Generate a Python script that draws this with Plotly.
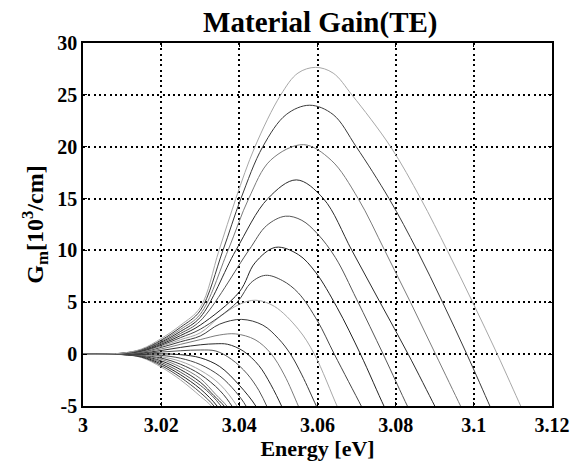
import plotly.graph_objects as go

# Photon energy [eV] and material gain [10^3/cm] for each carrier-density curve,
# highest injection first.
e01 = [3.000, 3.010, 3.015, 3.020, 3.025, 3.030, 3.0348, 3.0391, 3.0440, 3.0506, 3.0550, 3.0595, 3.0640, 3.0688, 3.0787, 3.0864, 3.0932, 3.0997, 3.1060, 3.1120, 3.1135]
g01 = [0, 0.10, 0.50, 1.50, 2.80, 4.50, 10, 15, 20, 25, 27.1, 27.65, 27.1, 25, 20, 15, 10, 5, 0, -5, -6.2]

e02 = [3.000, 3.010, 3.015, 3.020, 3.025, 3.030, 3.0358, 3.0404, 3.0460, 3.0520, 3.0580, 3.0640, 3.0699, 3.0783, 3.0855, 3.0920, 3.0982, 3.1041, 3.1055]
g02 = [0, 0.09, 0.45, 1.35, 2.60, 4.20, 10, 15, 20, 23.1, 24.0, 23.1, 20, 15, 10, 5, 0, -5, -6.2]

e03 = [3.000, 3.010, 3.015, 3.020, 3.025, 3.030, 3.0371, 3.0424, 3.0480, 3.0564, 3.0635, 3.0704, 3.0772, 3.0838, 3.0902, 3.0966, 3.0980]
g03 = [0, 0.08, 0.42, 1.25, 2.40, 3.85, 10, 15, 18.7, 20.2, 18.7, 15, 10, 5, 0, -5, -6.1]

e04 = [3.000, 3.010, 3.015, 3.020, 3.025, 3.030, 3.0391, 3.0473, 3.0546, 3.0615, 3.0688, 3.0760, 3.0832, 3.0900, 3.0915]
g04 = [0, 0.08, 0.38, 1.15, 2.20, 3.55, 10, 15, 16.8, 15, 10, 5, 0, -5, -6.1]

e05 = [3.000, 3.010, 3.015, 3.020, 3.025, 3.030, 3.0424, 3.0470, 3.0518, 3.0560, 3.0600, 3.0646, 3.0700, 3.0768, 3.0830, 3.0845]
g05 = [0, 0.07, 0.35, 1.05, 2.00, 3.20, 10, 12.4, 13.3, 12.9, 11.6, 9.3, 5.3, 0, -5, -6.1]

e06 = [3.000, 3.010, 3.015, 3.020, 3.025, 3.030, 3.0400, 3.0440, 3.0493, 3.0551, 3.0595, 3.0650, 3.0710, 3.0770, 3.0785]
g06 = [0, 0.06, 0.32, 0.95, 1.80, 2.80, 6.0, 8.8, 10.3, 9.6, 7.9, 4.5, 0, -5, -6.1]

e07 = [3.000, 3.010, 3.015, 3.020, 3.025, 3.030, 3.0394, 3.0430, 3.0467, 3.0510, 3.0551, 3.0600, 3.0643, 3.0712, 3.0727]
g07 = [0, 0.06, 0.28, 0.85, 1.60, 2.40, 5.0, 6.9, 7.6, 7.1, 5.9, 3.2, 0, -5, -6.1]

e08 = [3.000, 3.010, 3.015, 3.020, 3.025, 3.030, 3.0350, 3.0400, 3.0442, 3.0490, 3.0551, 3.0592, 3.0650, 3.0665]
g08 = [0, 0.05, 0.25, 0.75, 1.40, 2.05, 3.6, 4.8, 5.2, 4.6, 2.4, 0, -5, -6.2]

e09 = [3.000, 3.010, 3.015, 3.020, 3.025, 3.030, 3.0350, 3.0406, 3.0460, 3.0500, 3.0531, 3.0560, 3.0597, 3.0612]
g09 = [0, 0.04, 0.21, 0.65, 1.20, 1.75, 2.9, 3.35, 2.8, 1.5, 0, -2.0, -5, -6.2]

e10 = [3.000, 3.010, 3.015, 3.020, 3.025, 3.030, 3.0350, 3.0391, 3.0440, 3.0480, 3.0515, 3.0551, 3.0565]
g10 = [0, 0.03, 0.17, 0.50, 0.95, 1.40, 1.85, 1.95, 1.4, 0.1, -2.0, -5, -6.2]

e11 = [3.000, 3.010, 3.015, 3.020, 3.025, 3.030, 3.0340, 3.0370, 3.0410, 3.0450, 3.0480, 3.0508, 3.0522]
g11 = [0, 0.02, 0.12, 0.35, 0.65, 0.90, 1.0, 0.95, 0.3, -1.1, -2.9, -5, -6.2]

e12 = [3.000, 3.010, 3.015, 3.020, 3.025, 3.030, 3.0340, 3.0380, 3.0420, 3.0450, 3.0470, 3.0485]
g12 = [0, 0.01, 0.07, 0.20, 0.33, 0.40, 0.3, -0.5, -1.9, -3.5, -5, -6.2]

e13 = [3.000, 3.010, 3.015, 3.020, 3.025, 3.030, 3.0350, 3.0400, 3.0442, 3.0457]
g13 = [0, 0.00, 0.02, 0.03, -0.05, -0.35, -1.2, -3.0, -5, -6.2]

e14 = [3.000, 3.010, 3.015, 3.020, 3.025, 3.030, 3.0350, 3.0390, 3.0417, 3.0432]
g14 = [0, -0.01, -0.03, -0.12, -0.40, -1.00, -2.1, -3.6, -5, -6.3]

e15 = [3.000, 3.010, 3.015, 3.020, 3.025, 3.030, 3.0350, 3.0394, 3.0410]
g15 = [0, -0.01, -0.06, -0.25, -0.70, -1.55, -2.9, -5, -6.2]

e16 = [3.000, 3.010, 3.015, 3.020, 3.025, 3.030, 3.0350, 3.0381, 3.0396]
g16 = [0, -0.02, -0.10, -0.38, -0.98, -1.95, -3.5, -5, -6.0]

e17 = [3.000, 3.010, 3.015, 3.020, 3.025, 3.030, 3.0340, 3.0368, 3.0385]
g17 = [0, -0.02, -0.13, -0.50, -1.25, -2.35, -3.9, -5, -6.0]

e18 = [3.000, 3.010, 3.015, 3.020, 3.025, 3.030, 3.0335, 3.0361, 3.0378]
g18 = [0, -0.03, -0.17, -0.65, -1.50, -2.70, -4.0, -5, -6.0]

e19 = [3.000, 3.010, 3.015, 3.020, 3.025, 3.030, 3.0330, 3.0353, 3.0370]
g19 = [0, -0.03, -0.21, -0.80, -1.75, -3.00, -4.0, -5, -6.0]

e20 = [3.000, 3.010, 3.015, 3.020, 3.025, 3.030, 3.0343, 3.0360]
g20 = [0, -0.04, -0.25, -0.95, -2.00, -3.35, -5, -6.1]

e21 = [3.000, 3.010, 3.015, 3.020, 3.025, 3.030, 3.0335, 3.0352]
g21 = [0, -0.04, -0.29, -1.10, -2.25, -3.70, -5, -6.1]

e22 = [3.000, 3.010, 3.015, 3.020, 3.025, 3.030, 3.0328, 3.0345]
g22 = [0, -0.05, -0.33, -1.25, -2.50, -4.05, -5, -6.1]

x_ticks = [3.00, 3.02, 3.04, 3.06, 3.08, 3.10, 3.12]
x_tick_text = ["3", "3.02", "3.04", "3.06", "3.08", "3.1", "3.12"]
y_ticks = [-5, 0, 5, 10, 15, 20, 25, 30]
y_tick_text = ["-5", "0", "5", "10", "15", "20", "25", "30"]

curves = [
    (e01, g01), (e02, g02), (e03, g03), (e04, g04), (e05, g05), (e06, g06),
    (e07, g07), (e08, g08), (e09, g09), (e10, g10), (e11, g11), (e12, g12),
    (e13, g13), (e14, g14), (e15, g15), (e16, g16), (e17, g17), (e18, g18),
    (e19, g19), (e20, g20), (e21, g21), (e22, g22),
]

# grey shades cycled over the curve family
shades = ["#a8a8a8", "#3a3a3a", "#7c7c7c", "#2c2c2c", "#565656", "#242424", "#464646"]

SERIF = "Liberation Serif"

fig = go.Figure()
for i in reversed(range(len(curves))):
    ex, gy = curves[i]
    fig.add_trace(go.Scatter(
        x=ex, y=gy, mode="lines",
        line=dict(color=shades[i % len(shades)], width=1, shape="spline", smoothing=1.0),
        showlegend=False, hoverinfo="skip",
    ))

axis_common = dict(
    showgrid=True, gridcolor="black", gridwidth=1.5, griddash="2px,3.3px",
    showline=True, linecolor="black", linewidth=1.5, mirror="ticks",
    ticks="inside", ticklen=4, tickcolor="black", tickwidth=1,
    zeroline=False,
    tickfont=dict(family=SERIF, size=20, color="black", weight="bold"),
)

fig.update_layout(
    width=582, height=463,
    margin=dict(l=83, r=27, t=43, b=47),
    paper_bgcolor="white", plot_bgcolor="white",
    title=dict(
        text="Material Gain(TE)",
        font=dict(family=SERIF, size=29, color="black", weight="bold"),
        x=0.506, xref="paper", xanchor="center",
        y=1 - 22 / 463, yref="container", yanchor="middle",
    ),
    xaxis=dict(
        range=[3.0, 3.12], tickmode="array", tickvals=x_ticks, ticktext=x_tick_text,
        title=dict(text="Energy [eV]", standoff=0,
                   font=dict(family=SERIF, size=22, color="black", weight="bold")),
        **axis_common,
    ),
    yaxis=dict(
        range=[-5, 30], tickmode="array", tickvals=y_ticks, ticktext=y_tick_text,
        title=dict(text="G<sub>m</sub>[10<sup>3</sup>/cm]", standoff=7,
                   font=dict(family=SERIF, size=24, color="black", weight="bold")),
        **axis_common,
    ),
)

fig.write_html("out.html")
